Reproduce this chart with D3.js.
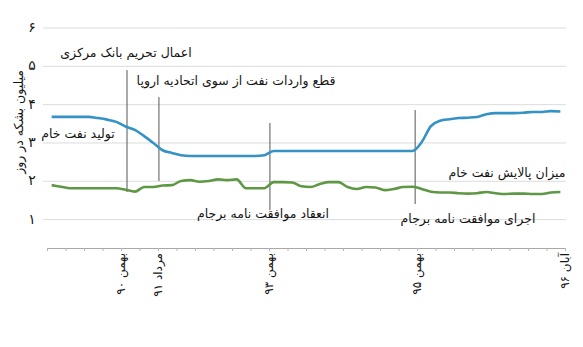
<!DOCTYPE html>
<html>
<head>
<meta charset="utf-8">
<script src="https://cdn.jsdelivr.net/npm/d3@7"></script>
<style>
  body { margin: 0; background: #fff; }
  svg { display: block; }
  text { font-family: "DejaVu Sans", sans-serif; fill: #151515; }
</style>
</head>
<body>
<svg id="chart" width="583" height="347"></svg>
<script>
// Crude oil production, million barrels per day (one value per half-tick slot)
const production = [
  3.68, 3.68, 3.68, 3.68, 3.68, 3.65, 3.61, 3.55, 3.43, 3.34,
  3.18, 3.00, 2.81, 2.74, 2.68, 2.66, 2.66, 2.66, 2.66, 2.66,
  2.66, 2.66, 2.66, 2.68, 2.79, 2.79, 2.79, 2.79, 2.79, 2.79,
  2.79, 2.79, 2.79, 2.79, 2.79, 2.79, 2.79, 2.79, 2.79, 2.79,
  3.02, 3.44, 3.58, 3.62, 3.65, 3.66, 3.68, 3.75, 3.78, 3.78,
  3.78, 3.79, 3.81, 3.81, 3.83, 3.82
];
// Crude oil refining, million barrels per day
const refining = [
  1.90, 1.86, 1.82, 1.82, 1.82, 1.82, 1.82, 1.82, 1.78, 1.73,
  1.85, 1.85, 1.89, 1.90, 2.01, 2.03, 1.99, 2.01, 2.05, 2.03,
  2.05, 1.82, 1.82, 1.82, 1.98, 1.98, 1.97, 1.87, 1.85, 1.93,
  1.98, 1.98, 1.85, 1.80, 1.85, 1.84, 1.77, 1.80, 1.85, 1.86,
  1.80, 1.73, 1.71, 1.71, 1.69, 1.68, 1.69, 1.72, 1.69, 1.67,
  1.68, 1.68, 1.67, 1.67, 1.71, 1.72
];
const yTicks = [1, 2, 3, 4, 5, 6];
const xTickSlots = [8, 12, 24, 40, 56];
const xTickLabels = ["بهمن ۹۰", "مرداد ۹۱", "بهمن ۹۳", "بهمن ۹۵", "آبان ۹۶"];
const eventSlots = [8.65, 12.1, 24.1, 39.8];
const eventLabels = [
  "اعمال تحریم بانک مرکزی",
  "قطع واردات نفت از سوی اتحادیه اروپا",
  "انعقاد موافقت نامه برجام",
  "اجرای موافقت نامه برجام"
];
const seriesLabels = ["تولید نفت خام", "میزان پالایش نفت خام"];
const yTitle = "میلیون بشکه در روز";

const fa = s => String(s).replace(/[0-9]/g, d => "۰۱۲۳۴۵۶۷۸۹"[d]);

const svg = d3.select("#chart");
const x = d3.scaleLinear().domain([0, 56]).range([47, 565]);
const y = d3.scaleLinear().domain([0.26, 6]).range([248, 28]);

// horizontal gridlines
svg.append("g").selectAll("line").data(yTicks).join("line")
  .attr("x1", 43).attr("x2", 566)
  .attr("y1", d => y(d)).attr("y2", d => y(d))
  .attr("stroke", "#dcdcdc").attr("stroke-width", 1);

// y tick labels
svg.append("g").selectAll("text").data(yTicks).join("text")
  .attr("x", 32).attr("y", d => y(d) - 1)
  .attr("text-anchor", "middle").attr("dominant-baseline", "central")
  .attr("font-size", 14).attr("fill", "#333").text(d => fa(d));

// y title
svg.append("text")
  .attr("transform", `translate(18,${y(3.55)}) rotate(-90)`)
  .attr("text-anchor", "middle").attr("dominant-baseline", "central")
  .attr("font-size", 12.5).text(yTitle);

// x axis
const xAxis = d3.axisBottom(x)
  .tickValues(d3.range(0, 57, 2))
  .tickSize(3).tickSizeOuter(0).tickFormat("");
const gx = svg.append("g").attr("transform", `translate(0,${y(0.26)})`).call(xAxis);
gx.select(".domain").attr("stroke", "#a8a8a8");
gx.selectAll(".tick line").attr("stroke", "#b5b5b5");

svg.append("g").selectAll("text").data(xTickSlots).join("text")
  .attr("transform", d => `translate(${x(d)},${y(0.26) + 5}) rotate(-90)`)
  .attr("text-anchor", "end").attr("dominant-baseline", "central")
  .attr("font-size", 12).text((d, i) => xTickLabels[i]);

// event markers
const eventTop = [70, 97, 123, 110];
const eventBottom = [192, 181, 210, 204];
svg.append("g").selectAll("line").data(eventSlots).join("line")
  .attr("x1", d => x(d)).attr("x2", d => x(d))
  .attr("y1", (d, i) => eventTop[i]).attr("y2", (d, i) => eventBottom[i])
  .attr("stroke", "#555").attr("stroke-width", 1);

const eventLabelPos = [[126, 52], [236, 80], [263, 213], [468, 218]];
svg.append("g").selectAll("text").data(eventLabels).join("text")
  .attr("x", (d, i) => eventLabelPos[i][0]).attr("y", (d, i) => eventLabelPos[i][1])
  .attr("text-anchor", "middle").attr("dominant-baseline", "central")
  .attr("font-size", 12.5).text(d => d);

// series lines
const line = d3.line().x((d, i) => x(i + 0.5)).y(d => y(d)).curve(d3.curveMonotoneX);
svg.append("path").datum(refining).attr("d", line)
  .attr("fill", "none").attr("stroke", "#5e9845").attr("stroke-width", 2.6);
svg.append("path").datum(production).attr("d", line)
  .attr("fill", "none").attr("stroke", "#3592c4").attr("stroke-width", 2.6);

// series labels
const seriesLabelPos = [[78, 133], [507, 172]];
svg.append("g").selectAll("text").data(seriesLabels).join("text")
  .attr("x", (d, i) => seriesLabelPos[i][0]).attr("y", (d, i) => seriesLabelPos[i][1])
  .attr("text-anchor", "middle").attr("dominant-baseline", "central")
  .attr("font-size", 12.5).text(d => d);
</script>
</body>
</html>
